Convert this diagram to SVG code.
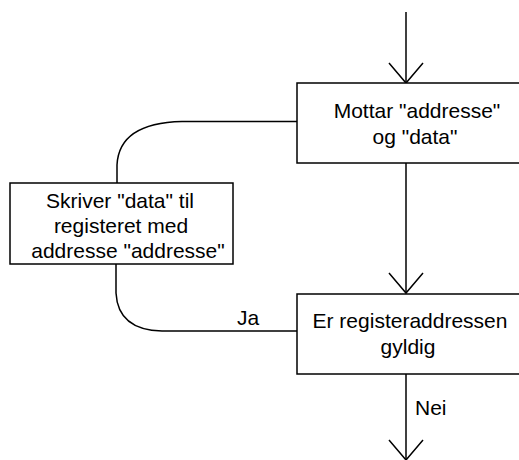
<svg xmlns="http://www.w3.org/2000/svg" width="519" height="460" viewBox="0 0 519 460">
<defs>
<marker id="vee" markerUnits="userSpaceOnUse" viewBox="-22 -20 24 40" markerWidth="24" markerHeight="40" refX="0" refY="0" orient="auto" overflow="visible">
<path d="M-20,-17 L0,0 L-20,17" fill="none" stroke="#000" stroke-width="1.5"/>
</marker>
</defs>
<style>
.box{fill:#fff;stroke:#000;stroke-width:1.5}
.ln{fill:none;stroke:#000;stroke-width:1.5}
.arr{marker-end:url(#vee)}
text{font-family:"Liberation Sans",Arial,sans-serif;font-size:21px;fill:#000}
.c{text-anchor:middle}
</style>
<rect width="519" height="460" fill="#fff"/>
<g id="connectors">
<path class="ln arr" d="M406,12 V83"/>
<path class="ln arr" d="M406,163 V293"/>
<path class="ln arr" d="M406,374 V460"/>
<path class="ln" d="M297,121.5 H182 Q119,123 117,165 V183"/>
<path class="ln" d="M116,264 V293 Q118,330 162,331 H297"/>
<text x="237" y="325">Ja</text>
<text x="415" y="415">Nei</text>
</g>
<g id="mottar">
<rect class="box" x="297" y="83" width="245" height="80"/>
<text class="c" x="417" y="118">Mottar "addresse"</text>
<text class="c" x="415" y="144">og "data"</text>
</g>
<g id="skriver">
<rect class="box" x="10" y="183" width="223" height="81"/>
<text class="c" x="120" y="207.5">Skriver "data" til</text>
<text class="c" x="121" y="232.5">registeret med</text>
<text class="c" x="128" y="257.5">addresse "addresse"</text>
</g>
<g id="gyldig">
<rect class="box" x="297" y="294" width="245" height="80"/>
<text class="c" x="410" y="328">Er registeraddressen</text>
<text class="c" x="408" y="354">gyldig</text>
</g>
</svg>
